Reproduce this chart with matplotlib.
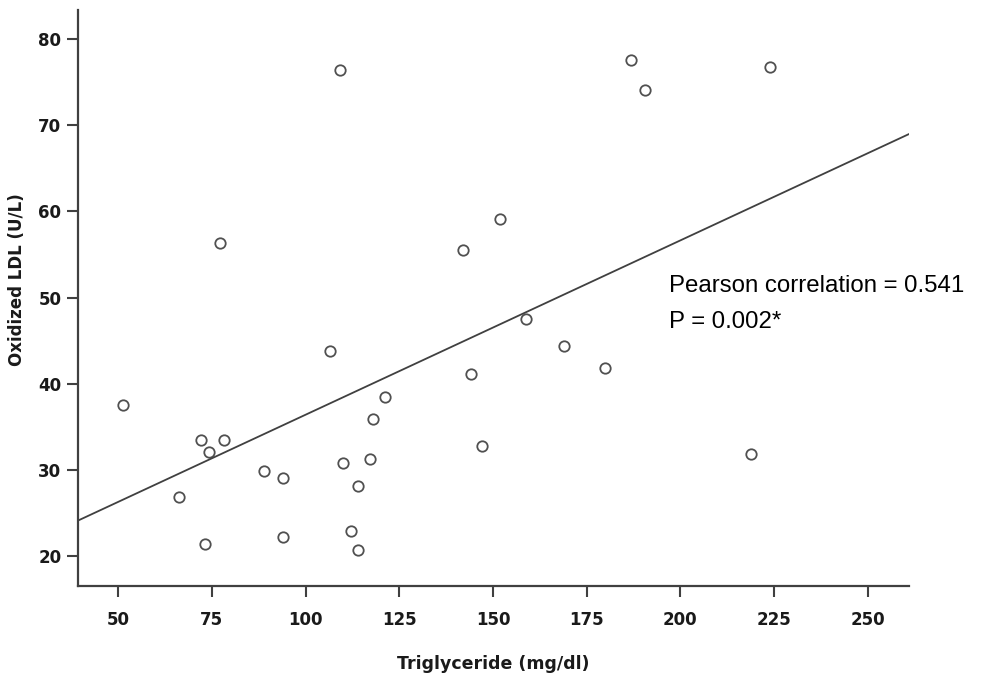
import numpy as np
import matplotlib
matplotlib.use("Agg")
from matplotlib import pyplot as plt

# Triglyceride (mg/dl) vs Oxidized LDL (U/L)
triglyceride = [51.2, 66.3, 72.0, 73.1, 74.2, 77.1, 78.3, 89.0, 94.1, 94.1,
                106.5, 109.1, 110.1, 112.1, 114.1, 114.1, 117.1, 118.1, 121.2,
                142.0, 144.1, 147.0, 152.0, 158.9, 169.0, 179.9, 186.9, 190.7,
                218.9, 223.9]
oxldl = [37.5, 26.8, 33.5, 21.4, 32.1, 56.3, 33.4, 29.8, 29.1, 22.2,
         43.8, 76.4, 30.8, 22.9, 28.1, 20.7, 31.3, 35.9, 38.4,
         55.5, 41.1, 32.8, 59.1, 47.5, 44.4, 41.8, 77.6, 74.1,
         31.8, 76.8]

# fitted line
fit_slope = 0.2025
fit_intercept = 16.14

x_ticks = [50, 75, 100, 125, 150, 175, 200, 225, 250]
y_ticks = [20, 30, 40, 50, 60, 70, 80]
xlim = (39.3, 261)
ylim = (16.5, 83.4)

dark = "#404040"

fig = plt.figure(figsize=(9.87, 6.8), dpi=100)
ax = fig.add_axes([78 / 987, 94 / 680, 831 / 987, 576 / 680])

ax.plot(triglyceride, oxldl, linestyle="none", marker="o", markersize=7.5,
        markerfacecolor="white", markeredgecolor="#505050", markeredgewidth=1.3)

lx = np.array(xlim)
ax.plot(lx, fit_slope * lx + fit_intercept, color=dark, linewidth=1.3)

ax.set_xlim(*xlim)
ax.set_ylim(*ylim)
ax.set_xticks(x_ticks)
ax.set_yticks(y_ticks)

for s in ["top", "right"]:
    ax.spines[s].set_visible(False)
for s in ["left", "bottom"]:
    ax.spines[s].set_color(dark)
    ax.spines[s].set_linewidth(1.6)

ax.tick_params(axis="both", direction="out", length=8, width=1.5, color=dark,
               labelsize=12, pad=4)
for lab in ax.get_xticklabels() + ax.get_yticklabels():
    lab.set_fontweight("bold")
    lab.set_color("#1a1a1a")
ax.tick_params(axis="x", pad=10)

ax.set_xlabel("Triglyceride (mg/dl)", fontsize=12.5, fontweight="bold", color="#1a1a1a")
ax.set_ylabel("Oxidized LDL (U/L)", fontsize=12, fontweight="bold", color="#1a1a1a")
ax.xaxis.set_label_coords((493 - 78) / 831, -(655 - 586) / 576)
ax.yaxis.set_label_coords(-(78 - 26) / 831, (586 - 280) / 576)

fig.text(669 / 987, 1 - 286 / 680, "Pearson correlation = 0.541",
         fontsize=17.3, family="Liberation Sans", va="center", ha="left")
fig.text(669 / 987, 1 - 322 / 680, "P = 0.002*",
         fontsize=17.3, family="Liberation Sans", va="center", ha="left")

fig.savefig("out.png", dpi=100)
